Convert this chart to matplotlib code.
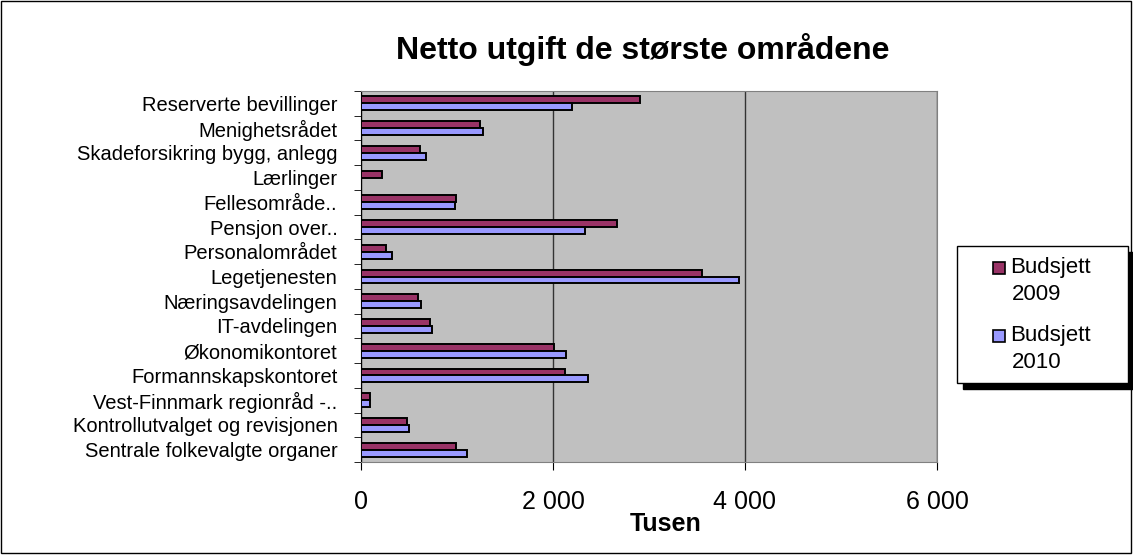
import matplotlib
matplotlib.use("Agg")
import matplotlib.pyplot as plt
import numpy as np
from matplotlib.patches import Rectangle

categories = ["Reserverte bevillinger", "Menighetsrådet", "Skadeforsikring bygg, anlegg",
              "Lærlinger", "Fellesområde..", "Pensjon over..", "Personalområdet",
              "Legetjenesten", "Næringsavdelingen", "IT-avdelingen", "Økonomikontoret",
              "Formannskapskontoret", "Vest-Finnmark regionråd -..",
              "Kontrollutvalget og revisjonen", "Sentrale folkevalgte organer"]
budsjett_2009 = [2906, 1243, 615, 215, 986, 2670, 257, 3552, 590, 722, 2014, 2125, 90, 479, 990]
budsjett_2010 = [2198, 1267, 677, 0, 976, 2333, 319, 3937, 629, 740, 2135, 2368, 94, 497, 1101]
xticks = [0, 2000, 4000, 6000]
xticklabels = ["0", "2 000", "4 000", "6 000"]

plt.rcParams['font.family'] = ['Liberation Sans', 'DejaVu Sans']

W, H = 1133, 555
fig = plt.figure(figsize=(W / 100, H / 100), dpi=100)
fig.patch.set_facecolor("white")


def frect(x0, y0, x1, y1, **kw):
    """Rectangle in figure pixel coords (y from top)."""
    fig.add_artist(Rectangle((x0 / W, 1 - y1 / H), (x1 - x0) / W, (y1 - y0) / H,
                             transform=fig.transFigure, **kw))


frect(1, 1, W - 2, H - 2, fill=False, edgecolor="black", linewidth=1)

left, right, top, bottom = 361, 937, 91, 462
ax = fig.add_axes([left / W, 1 - bottom / H, (right - left) / W, (bottom - top) / H])
ax.set_facecolor("#C0C0C0")

n = len(categories)
y = np.arange(n)
h = 0.28
ax.barh(y - h / 2, budsjett_2009, height=h, color="#993366", edgecolor="black",
        linewidth=1.4, zorder=3)
ax.barh(y + h / 2, budsjett_2010, height=h, color="#9999FF", edgecolor="black",
        linewidth=1.4, zorder=3)

ax.set_ylim(n - 0.5, -0.5)
ax.set_xlim(0, 6000)
ax.set_yticks(y)
ax.set_yticklabels(categories, fontsize=14.5)
ax.set_yticks(np.arange(n + 1) - 0.5, minor=True)
ax.tick_params(axis="y", which="major", length=0, pad=17)
ax.tick_params(axis="y", which="minor", length=5, direction="out", color="black")
ax.set_xticks(xticks)
ax.set_xticklabels(xticklabels, fontsize=18)
ax.tick_params(axis="x", length=6, direction="out", pad=14)
ax.xaxis.grid(True, color="#333333", linewidth=1, zorder=1)
ax.set_axisbelow(True)
for s in ["top", "right", "bottom"]:
    ax.spines[s].set_color("#808080")
ax.spines["left"].set_color("black")

fig.text(666 / W, 1 - 524 / H, "Tusen", ha="center", va="center", fontsize=18,
         fontweight="bold")
fig.text(643 / W, 1 - 50 / H, "Netto utgift de største områdene",
         ha="center", va="center", fontsize=23, fontweight="semibold")

# legend with shadow
lx0, ly0, lx1, ly1 = 957, 246, 1128, 383
frect(lx0 + 6, ly0 + 6, lx1 + 6, ly1 + 6, facecolor="black", edgecolor="black")
frect(lx0, ly0, lx1, ly1, facecolor="white", edgecolor="black", linewidth=1)
items = [("Budsjett", "2009", "#993366", 268), ("Budsjett", "2010", "#9999FF", 336)]
for l1, l2, col, yy in items:
    frect(993, yy - 6, 1005, yy + 6, facecolor=col, edgecolor="black", linewidth=1.2)
    fig.text(1010 / W, 1 - yy / H, l1, fontsize=16, va="center", ha="left")
    fig.text(1012 / W, 1 - (yy + 27) / H, l2, fontsize=16, va="center", ha="left")

fig.savefig("out.png", dpi=100)
